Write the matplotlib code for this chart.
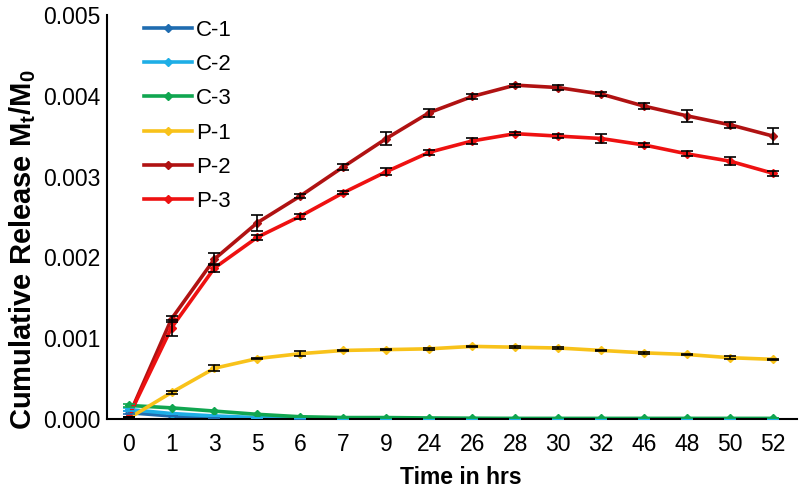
import numpy as np
import matplotlib.pyplot as plt

plt.rcParams['font.family'] = ['Liberation Sans', 'DejaVu Sans']

# Данные
time_labels = ['0', '1', '3', '5', '6', '7', '9', '24', '26', '28', '30', '32', '46', '48', '50', '52']

c1 = [0.00008, 0.00004, 0.00002, 0.00001, 0.000005, 0.000004, 0.000003, 0.000003,
      0.000002, 0.000002, 0.000002, 0.000002, 0.000002, 0.000002, 0.000002, 0.000002]
c2 = [0.00012, 0.00007, 0.00004, 0.00002, 0.00001, 0.000008, 0.000006, 0.000005,
      0.000004, 0.000004, 0.000004, 0.000004, 0.000003, 0.000003, 0.000003, 0.000003]
c3 = [0.00017, 0.00014, 0.00010, 0.00006, 0.00003, 0.00002, 0.00002, 0.000015,
      0.000012, 0.00001, 0.00001, 0.00001, 0.00001, 0.00001, 0.00001, 0.00001]
p1 = [0.00001, 0.00033, 0.00063, 0.00075, 0.00081, 0.00085, 0.00086, 0.00087,
      0.00090, 0.00089, 0.00088, 0.00085, 0.00082, 0.00080, 0.00076, 0.00074]
p2 = [0.00003, 0.00124, 0.00198, 0.00243, 0.00276, 0.00312, 0.00347, 0.00379,
      0.00399, 0.00413, 0.00410, 0.00402, 0.00387, 0.00375, 0.00364, 0.00350]
p3 = [0.00003, 0.00113, 0.00187, 0.00225, 0.00251, 0.00280, 0.00306, 0.00330,
      0.00344, 0.00353, 0.00350, 0.00347, 0.00339, 0.00328, 0.00319, 0.00304]

c_err = [0.00002, 0, 0, 0, 0, 0, 0, 0, 0, 0, 0, 0, 0, 0, 0, 0]
p1_err = [0, 0.00002, 0.00004, 0.00001, 0.00003, 0.00001, 0.00001, 0.00001,
          0.00001, 0.00001, 0.00001, 0.00001, 0.00001, 0.00001, 0.00002, 0.00001]
p2_err = [0, 0.00004, 0.00007, 0.0001, 0.00003, 0.00004, 0.00008, 0.00005,
          0.00003, 0.00002, 0.00003, 0.00003, 0.00004, 0.00007, 0.00004, 0.0001]
p3_err = [0, 0.0001, 0.00005, 0.00003, 0.00003, 0.00002, 0.00004, 0.00003,
          0.00004, 0.00002, 0.00002, 0.00006, 0.00003, 0.00003, 0.00005, 0.00003]

series = [
    ('C-1', c1, c_err, '#1F6CB0'),
    ('C-2', c2, c_err, '#1EAEE6'),
    ('C-3', c3, c_err, '#10A650'),
    ('P-1', p1, p1_err, '#F8C21A'),
    ('P-2', p2, p2_err, '#B01212'),
    ('P-3', p3, p3_err, '#EE1111'),
]

x = np.arange(len(time_labels))

fig = plt.figure(figsize=(7.99, 4.92), dpi=100)
ax = fig.add_axes([0.134, 0.148, 0.863, 0.822])

for name, vals, err, col in series:
    ecol = col if name.startswith('C') else 'black'
    ax.errorbar(x, vals, yerr=err, fmt='none', ecolor=ecol, elinewidth=1.2,
                capsize=4, capthick=1.2, zorder=3)
for name, vals, err, col in series:
    ax.plot(x, vals, color=col, lw=2.6, marker='D', markersize=4.5, label=name, zorder=2)

ax.set_xlim(-0.5, 15.55)
ax.set_ylim(0, 0.005)
ax.set_xticks(x)
ax.set_xticklabels(time_labels)
ax.set_yticks(np.arange(0, 0.0051, 0.001))
ax.set_yticklabels(['%.3f' % v for v in np.arange(0, 0.0051, 0.001)])
ax.tick_params(length=0, labelsize=16.5)
ax.tick_params(axis='x', pad=10)
ax.tick_params(axis='y', pad=5)
ax.spines['top'].set_visible(False)
ax.spines['right'].set_visible(False)
ax.spines['left'].set_linewidth(1.5)
ax.spines['bottom'].set_linewidth(1.5)

ax.set_xlabel('Time in hrs', fontsize=16.5, fontweight='bold')
ax.set_ylabel('Cumulative Release M$_\\mathregular{t}$/M$_\\mathregular{0}$',
              fontsize=21, fontweight='bold')
ax.xaxis.set_label_coords(0.513, -0.144)
ax.yaxis.set_label_coords(-0.123, 0.42)
ax.xaxis.label.set_va('center')
ax.yaxis.label.set_va('center')

ax.legend(loc='upper left', bbox_to_anchor=(0.04, 1.01), frameon=False, fontsize=16,
          handlelength=2.2, handletextpad=0.15, labelspacing=0.6, borderaxespad=0.0)

fig.savefig('out.png', dpi=100)
